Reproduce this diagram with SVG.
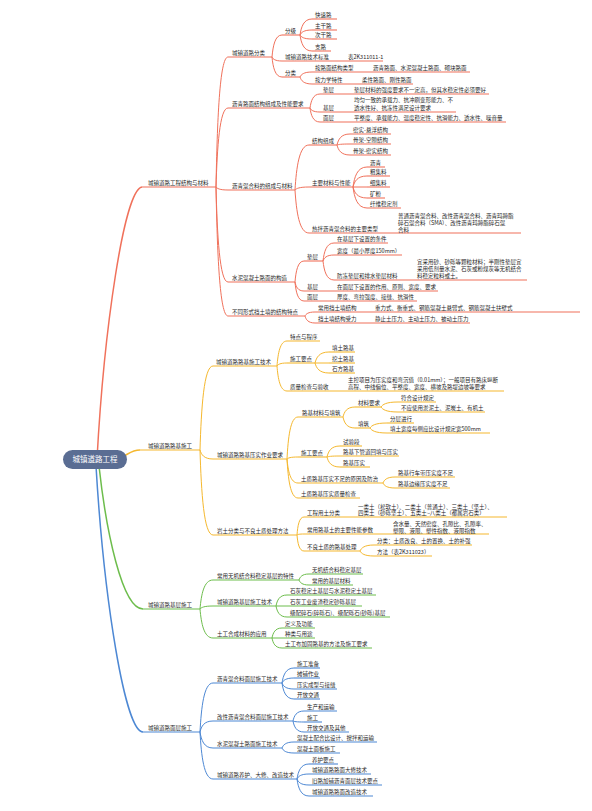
<svg xmlns="http://www.w3.org/2000/svg" width="592" height="811" viewBox="0 0 592 811">
<style>
text{font-family:"Noto Sans CJK SC","Noto Sans",sans-serif;font-size:5.5px;fill:#1e1e1e}
.c{fill:none;stroke-width:1}
.m{fill:none;stroke-width:1.5}
.u{fill:none;stroke-width:1.1}
.R{stroke:#f0715b}.Y{stroke:#f5b82e}.G{stroke:#6dbd4c}.B{stroke:#4d88d4}
.root{fill:#5a6d93}
.rt{font-size:7.5px;fill:#fff}
</style>
<rect width="592" height="811" fill="#fff"/>
<g id="connectors">
<path class="m R" d="M97 459C104 330 124 190 142 187"/>
<path class="m Y" d="M112 459C126 459 128 450 140 450"/>
<path class="m G" d="M99 466C106 530 122 609 143 609"/>
<path class="m B" d="M96 466C104 600 125 732 143 732"/>
<g class="c R">
<path d="M216 187C217.2 122 219.6 57 228 57"/>
<path d="M216 187C217.2 147.5 219.6 108 228 108"/>
<path d="M216 187C217.2 188.5 219.6 190 228 190"/>
<path d="M216 187C217.2 234.5 219.6 282 228 282"/>
<path d="M216 187C217.2 251.5 219.6 316 228 316"/>
<path d="M272 57C273 46 275 35 282 35"/>
<path d="M272 57C273 59 275 61 282 61"/>
<path d="M272 57C273 67 275 77 282 77"/>
<path d="M300 35C301.2 27 303.6 19 312 19"/>
<path d="M300 35C301.2 32.5 303.6 30 312 30"/>
<path d="M300 35C301.2 37 303.6 39 312 39"/>
<path d="M300 35C301.2 43 303.6 51 312 51"/>
<path d="M300 77C301.2 74.5 303.6 72 312 72"/>
<path d="M300 77C301.2 80.5 303.6 84 312 84"/>
<path d="M310 108C311 101 313 94 320 94"/>
<path d="M310 108C311 110 313 112 320 112"/>
<path d="M310 108C311 115 313 122 320 122"/>
<path d="M295 190C296.4 167.5 299.2 145 309 145"/>
<path d="M295 190C296.4 188.5 299.2 187 309 187"/>
<path d="M295 190C296.4 211.5 299.2 233 309 233"/>
<path d="M337 145C338.3 139.5 340.9 134 350 134"/>
<path d="M337 145C338.3 144.5 340.9 144 350 144"/>
<path d="M337 145C338.3 150 340.9 155 350 155"/>
<path d="M353 187C354.4 177 357.2 167 367 167"/>
<path d="M353 187C354.4 181.5 357.2 176 367 176"/>
<path d="M353 187H367"/>
<path d="M353 187C354.4 192.5 357.2 198 367 198"/>
<path d="M353 187C354.4 197.5 357.2 208 367 208"/>
<path d="M295 282C295.9 271.5 297.7 261 304 261"/>
<path d="M295 282C295.9 286.5 297.7 291 304 291"/>
<path d="M295 282C295.9 291.5 297.7 301 304 301"/>
<path d="M323 261C324.1 252 326.3 243 334 243"/>
<path d="M323 261C324.1 258 326.3 255 334 255"/>
<path d="M323 261C324.1 270.5 326.3 280 334 280"/>
<path d="M305 316C306 314 308 312 315 312"/>
<path d="M305 316C306 319.5 308 323 315 323"/>
</g>
<g class="c Y">
<path d="M200 450C201.3 408 203.9 366 213 366"/>
<path d="M200 450C201.3 454.5 203.9 459 213 459"/>
<path d="M200 450C201.3 492.5 203.9 535 213 535"/>
<path d="M277 366C278 353.5 280 341 287 341"/>
<path d="M277 366C278 364.5 280 363 287 363"/>
<path d="M277 366C278 378.5 280 391 287 391"/>
<path d="M315 363C316.4 357.5 319.2 352 329 352"/>
<path d="M315 363H329"/>
<path d="M315 363C316.4 368 319.2 373 329 373"/>
<path d="M287 459C288.1 438 290.3 417 298 417"/>
<path d="M287 459C288.1 458 290.3 457 298 457"/>
<path d="M287 459C288.1 471 290.3 483 298 483"/>
<path d="M287 459C288.1 478.5 290.3 498 298 498"/>
<path d="M343 417C344.2 412 346.6 407 355 407"/>
<path d="M343 417C344.2 422.5 346.6 428 355 428"/>
<path d="M381 407C382.7 404.5 386.1 402 398 402"/>
<path d="M381 407C382.7 409.5 386.1 412 398 412"/>
<path d="M370 428C371.7 425.5 375.1 423 387 423"/>
<path d="M370 428C371.7 430.5 375.1 433 387 433"/>
<path d="M327 457C328.3 451.5 330.9 446 340 446"/>
<path d="M327 457C328.3 456.5 330.9 456 340 456"/>
<path d="M327 457C328.3 462 330.9 467 340 467"/>
<path d="M383 483C384.2 480 386.6 477 395 477"/>
<path d="M383 483C384.2 485.5 386.6 488 395 488"/>
<path d="M297 535C297.7 526 299.1 517 304 517"/>
<path d="M297 535C297.7 534.5 299.1 534 304 534"/>
<path d="M297 535C297.7 543 299.1 551 304 551"/>
<path d="M360 551C361.4 548 364.2 545 374 545"/>
<path d="M360 551C361.4 553.5 364.2 556 374 556"/>
</g>
<g class="c G">
<path d="M200 609C201.3 594.5 203.9 580 213 580"/>
<path d="M200 609C201.3 607.5 203.9 606 213 606"/>
<path d="M200 609C201.3 623.5 203.9 638 213 638"/>
<path d="M299 580C300 577 302 574 309 574"/>
<path d="M299 580C300 582.5 302 585 309 585"/>
<path d="M276 606C277.1 600.5 279.3 595 287 595"/>
<path d="M276 606H287"/>
<path d="M276 606C277.1 611.5 279.3 617 287 617"/>
<path d="M272 638C273 633 275 628 282 628"/>
<path d="M272 638H282"/>
<path d="M272 638C273 643 275 648 282 648"/>
</g>
<g class="c B">
<path d="M200 732C201.3 707.5 203.9 683 213 683"/>
<path d="M200 732C201.3 726.5 203.9 721 213 721"/>
<path d="M200 732C201.3 740 203.9 748 213 748"/>
<path d="M200 732C201.3 755.5 203.9 779 213 779"/>
<path d="M282 683C283.2 675.5 285.6 668 294 668"/>
<path d="M282 683C283.2 680.5 285.6 678 294 678"/>
<path d="M282 683C283.2 686 285.6 689 294 689"/>
<path d="M282 683C283.2 691 285.6 699 294 699"/>
<path d="M293 721C294.1 716 296.3 711 304 711"/>
<path d="M293 721C294.1 721.5 296.3 722 304 722"/>
<path d="M293 721C294.1 726.5 296.3 732 304 732"/>
<path d="M282 748C283.2 745 285.6 742 294 742"/>
<path d="M282 748C283.2 750.5 285.6 753 294 753"/>
<path d="M297 779C298.2 771.5 300.6 764 309 764"/>
<path d="M297 779C298.2 776.5 300.6 774 309 774"/>
<path d="M297 779C298.2 782 300.6 785 309 785"/>
<path d="M297 779C298.2 787.5 300.6 796 309 796"/>
</g>
</g>

<g id="root"><rect class="root" x="63" y="450" width="64" height="19" rx="9.5"/><text class="rt" x="95" y="462.3" text-anchor="middle">城镇道路工程</text></g>

<!-- red branch -->
<g id="n-r"><path class="u R" d="M142 187H216"/><text x="148" y="185">城镇道路工程结构与材料</text></g>
<g id="n-r1"><path class="u R" d="M228 57H272"/><text x="232" y="55">城镇道路分类</text></g>
<g id="n-r1a"><path class="u R" d="M282 35H300"/><text x="285" y="33">分级</text></g>
<g id="n-r1a1"><path class="u R" d="M312 19H337"/><text x="315" y="17">快速路</text></g>
<g id="n-r1a2"><path class="u R" d="M312 30H337"/><text x="315" y="28">主干路</text></g>
<g id="n-r1a3"><path class="u R" d="M312 39H337"/><text x="315" y="37">次干路</text></g>
<g id="n-r1a4"><path class="u R" d="M312 51H331"/><text x="315" y="49">支路</text></g>
<g id="n-r1b"><path class="u R" d="M282 61H383"/><text x="285" y="59">城镇道路技术标准</text><text x="348" y="59">表2K311011-1</text></g>
<g id="n-r1c"><path class="u R" d="M282 77H300"/><text x="285" y="75">分类</text></g>
<g id="n-r1c1"><path class="u R" d="M312 72H470"/><text x="315" y="70">按路面结构类型</text><text x="373" y="70">沥青路面、水泥混凝土路面、砌块路面</text></g>
<g id="n-r1c2"><path class="u R" d="M312 84H413"/><text x="315" y="82">按力学特性</text><text x="362" y="82">柔性路面、刚性路面</text></g>
<g id="n-r2"><path class="u R" d="M228 108H310"/><text x="232" y="106">沥青路面结构组成及性能要求</text></g>
<g id="n-r2a"><path class="u R" d="M320 94H489"/><text x="323" y="92">垫层</text><text x="354" y="92">垫层材料的强度要求不一定高，但其水稳定性必须要好</text></g>
<g id="n-r2b"><path class="u R" d="M320 112H456"/><text x="323" y="110">基层</text><text x="354" y="102.2">均匀一致的承载力、抗冲刷变形能力、不<tspan x="354" y="110">透水性好、抗冻性满足设计要求</tspan></text></g>
<g id="n-r2c"><path class="u R" d="M320 122H506"/><text x="323" y="120">面层</text><text x="354" y="120">平整度、承载能力、温度稳定性、抗滑能力、透水性、噪音量</text></g>
<g id="n-r3"><path class="u R" d="M228 190H295"/><text x="232" y="188">沥青混合料的组成与材料</text></g>
<g id="n-r3a"><path class="u R" d="M309 145H337"/><text x="312" y="143">结构组成</text></g>
<g id="n-r3a1"><path class="u R" d="M350 134H391"/><text x="353" y="132">密实-悬浮结构</text></g>
<g id="n-r3a2"><path class="u R" d="M350 144H391"/><text x="353" y="142">骨架-空隙结构</text></g>
<g id="n-r3a3"><path class="u R" d="M350 155H391"/><text x="353" y="153">骨架-密实结构</text></g>
<g id="n-r3b"><path class="u R" d="M309 187H353"/><text x="312" y="185">主要材料与性能</text></g>
<g id="n-r3b1"><path class="u R" d="M367 167H385"/><text x="370" y="165">沥青</text></g>
<g id="n-r3b2"><path class="u R" d="M367 176H390"/><text x="370" y="174">粗集料</text></g>
<g id="n-r3b3"><path class="u R" d="M367 187H390"/><text x="370" y="185">细集料</text></g>
<g id="n-r3b4"><path class="u R" d="M367 198H385"/><text x="370" y="196">矿粉</text></g>
<g id="n-r3b5"><path class="u R" d="M367 208H401"/><text x="370" y="206">纤维稳定剂</text></g>
<g id="n-r3c"><path class="u R" d="M309 233H521"/><text x="312" y="231">热拌沥青混合料的主要类型</text><text x="398" y="218">普通沥青混合料、改性沥青混合料、沥青玛蹄脂<tspan x="398" y="225">碎石混合料（SMA）、改性沥青玛蹄脂碎石混</tspan><tspan x="398" y="232">合料</tspan></text></g>
<g id="n-r4"><path class="u R" d="M228 282H295"/><text x="232" y="280">水泥混凝土路面的构造</text></g>
<g id="n-r4a"><path class="u R" d="M304 261H323"/><text x="307" y="259">垫层</text></g>
<g id="n-r4a1"><path class="u R" d="M334 243H388"/><text x="337" y="241">在基层下设置的条件</text></g>
<g id="n-r4a2"><path class="u R" d="M334 255H402"/><text x="337" y="253">宽度（最小厚度150mm）</text></g>
<g id="n-r4a3"><path class="u R" d="M334 280H527"/><text x="337" y="278">防冻垫层和排水垫层材料</text><text x="417" y="264">宜采用砂、砂砾等颗粒材料；半刚性垫层宜<tspan x="417" y="271">采用低剂量水泥、石灰或粉煤灰等无机结合</tspan><tspan x="417" y="278">料稳定粒料或土。</tspan></text></g>
<g id="n-r4b"><path class="u R" d="M304 291H438"/><text x="307" y="289">基层</text><text x="337" y="289">在面层下设置的作用、原则、宽度、要求</text></g>
<g id="n-r4c"><path class="u R" d="M304 301H417"/><text x="307" y="299">面层</text><text x="337" y="299">厚度、弯拉强度、接缝、抗滑性</text></g>
<g id="n-r5"><path class="u R" d="M228 316H305"/><text x="232" y="314">不同形式挡土墙的结构特点</text></g>
<g id="n-r5a"><path class="u R" d="M315 312H580"/><text x="318" y="310">常用挡土墙结构</text><text x="375" y="310">重力式、衡重式、钢筋混凝土悬臂式、钢筋混凝土扶壁式</text></g>
<g id="n-r5b"><path class="u R" d="M315 323H470"/><text x="318" y="321">挡土墙结构受力</text><text x="375" y="321">静止土压力、主动土压力、被动土压力</text></g>

<!-- yellow branch -->
<g id="n-y"><path class="u Y" d="M140 450H200"/><text x="148" y="448">城镇道路路基施工</text></g>
<g id="n-y1"><path class="u Y" d="M213 366H277"/><text x="216" y="364">城镇道路路基施工技术</text></g>
<g id="n-y1a"><path class="u Y" d="M287 341H320"/><text x="290" y="339">特点与程序</text></g>
<g id="n-y1b"><path class="u Y" d="M287 363H315"/><text x="290" y="361">施工要点</text></g>
<g id="n-y1b1"><path class="u Y" d="M329 352H355"/><text x="332" y="350">填土路基</text></g>
<g id="n-y1b2"><path class="u Y" d="M329 363H355"/><text x="332" y="361">挖土路基</text></g>
<g id="n-y1b3"><path class="u Y" d="M329 373H355"/><text x="332" y="371">石方路基</text></g>
<g id="n-y1c"><path class="u Y" d="M287 391H504"/><text x="290" y="389">质量检查与验收</text><text x="348" y="382">主控项目为压实度和弯沉值（0.01mm）；一般项目有路床纵断<tspan x="348" y="389">高程、中线偏位、平整度、宽度、横坡及路堤边坡等要求</tspan></text></g>
<g id="n-y2"><path class="u Y" d="M213 459H287"/><text x="217" y="457">城镇道路路基压实作业要求</text></g>
<g id="n-y2a"><path class="u Y" d="M298 417H343"/><text x="302" y="415">路基材料与填筑</text></g>
<g id="n-y2a1"><path class="u Y" d="M355 407H381"/><text x="358" y="405">材料要求</text></g>
<g id="n-y2a1a"><path class="u Y" d="M398 402H436"/><text x="401" y="400">符合设计规定</text></g>
<g id="n-y2a1b"><path class="u Y" d="M398 412H485"/><text x="401" y="410">不应使用淤泥土、泥炭土、有机土</text></g>
<g id="n-y2a2"><path class="u Y" d="M355 428H370"/><text x="358" y="426">填筑</text></g>
<g id="n-y2a2a"><path class="u Y" d="M387 423H414"/><text x="390" y="421">分层进行</text></g>
<g id="n-y2a2b"><path class="u Y" d="M387 433H490"/><text x="390" y="431">填土宽度每侧应比设计规定宽500mm</text></g>
<g id="n-y2b"><path class="u Y" d="M298 457H327"/><text x="301" y="455">施工要点</text></g>
<g id="n-y2b1"><path class="u Y" d="M340 446H362"/><text x="343" y="444">试验段</text></g>
<g id="n-y2b2"><path class="u Y" d="M340 456H399"/><text x="343" y="454">路基下管道回填与压实</text></g>
<g id="n-y2b3"><path class="u Y" d="M340 467H370"/><text x="343" y="465">路基压实</text></g>
<g id="n-y2c"><path class="u Y" d="M298 483H383"/><text x="301" y="481">土质路基压实不足的原因及防治</text></g>
<g id="n-y2c1"><path class="u Y" d="M395 477H455"/><text x="398" y="475">路基行车带压实度不足</text></g>
<g id="n-y2c2"><path class="u Y" d="M395 488H450"/><text x="398" y="486">路基边缘压实度不足</text></g>
<g id="n-y2d"><path class="u Y" d="M298 498H360"/><text x="301" y="496">土质路基压实质量检查</text></g>
<g id="n-y3"><path class="u Y" d="M213 535H297"/><text x="217" y="533">岩土分类与不良土质处理方法</text></g>
<g id="n-y3a"><path class="u Y" d="M304 517H507"/><text x="307" y="515">工程用土分类</text><text x="358" y="508.5">一类土（松软土）、二类土（普通土）、三类土（坚土）、<tspan x="358" y="515">四类土（砂砾坚土）、五类土~八类土（都属岩石类）</tspan></text></g>
<g id="n-y3b"><path class="u Y" d="M304 534H489"/><text x="307" y="532">常用路基土的主要性能参数</text><text x="393" y="526">含水量、天然密度、孔隙比、孔隙率、<tspan x="393" y="532.8">塑限、液限、塑性指数、液限指数</tspan></text></g>
<g id="n-y3c"><path class="u Y" d="M304 551H360"/><text x="307" y="549">不良土质的路基处理</text></g>
<g id="n-y3c1"><path class="u Y" d="M374 545H472"/><text x="377" y="543">分类：土质改良、土的置换、土的补强</text></g>
<g id="n-y3c2"><path class="u Y" d="M374 556H432"/><text x="377" y="554">方法（表2K311023）</text></g>

<!-- green branch -->
<g id="n-g"><path class="u G" d="M143 609H200"/><text x="148" y="607">城镇道路基层施工</text></g>
<g id="n-g1"><path class="u G" d="M213 580H299"/><text x="217" y="578">常用无机结合料稳定基层的特性</text></g>
<g id="n-g1a"><path class="u G" d="M309 574H363"/><text x="312" y="572">无机结合料稳定基层</text></g>
<g id="n-g1b"><path class="u G" d="M309 585H353"/><text x="312" y="583">常用的基层材料</text></g>
<g id="n-g2"><path class="u G" d="M213 606H276"/><text x="217" y="604">城镇道路基层施工技术</text></g>
<g id="n-g2a"><path class="u G" d="M287 595H376"/><text x="290" y="593">石灰稳定土基层与水泥稳定土基层</text></g>
<g id="n-g2b"><path class="u G" d="M287 606H362"/><text x="290" y="604">石灰工业废渣稳定砂砾基层</text></g>
<g id="n-g2c"><path class="u G" d="M287 617H390"/><text x="290" y="615">级配碎石(碎砾石)、级配砾石(砂砾)基层</text></g>
<g id="n-g3"><path class="u G" d="M213 638H272"/><text x="217" y="636">土工合成材料的应用</text></g>
<g id="n-g3a"><path class="u G" d="M282 628H315"/><text x="285" y="626">定义及功能</text></g>
<g id="n-g3b"><path class="u G" d="M282 638H315"/><text x="285" y="636">种类与用途</text></g>
<g id="n-g3c"><path class="u G" d="M282 648H372"/><text x="285" y="646">土工布加固路基的方法及施工要求</text></g>

<!-- blue branch -->
<g id="n-b"><path class="u B" d="M143 732H200"/><text x="148" y="730">城镇道路面层施工</text></g>
<g id="n-b1"><path class="u B" d="M213 683H282"/><text x="217" y="681">沥青混合料面层施工技术</text></g>
<g id="n-b1a"><path class="u B" d="M294 668H320"/><text x="297" y="666">施工准备</text></g>
<g id="n-b1b"><path class="u B" d="M294 678H320"/><text x="297" y="676">摊铺作业</text></g>
<g id="n-b1c"><path class="u B" d="M294 689H337"/><text x="297" y="687">压实成型与接缝</text></g>
<g id="n-b1d"><path class="u B" d="M294 699H320"/><text x="297" y="697">开放交通</text></g>
<g id="n-b2"><path class="u B" d="M213 721H293"/><text x="217" y="719">改性沥青混合料面层施工技术</text></g>
<g id="n-b2a"><path class="u B" d="M304 711H337"/><text x="307" y="709">生产和运输</text></g>
<g id="n-b2b"><path class="u B" d="M304 722H322"/><text x="307" y="720">施工</text></g>
<g id="n-b2c"><path class="u B" d="M304 732H349"/><text x="307" y="730">开放交通及其他</text></g>
<g id="n-b3"><path class="u B" d="M213 748H282"/><text x="217" y="746">水泥混凝土路面施工技术</text></g>
<g id="n-b3a"><path class="u B" d="M294 742H377"/><text x="297" y="740">混凝土配合比设计、搅拌和运输</text></g>
<g id="n-b3b"><path class="u B" d="M294 753H340"/><text x="297" y="751">混凝土面板施工</text></g>
<g id="n-b4"><path class="u B" d="M213 779H297"/><text x="217" y="777">城镇道路养护、大修、改造技术</text></g>
<g id="n-b4a"><path class="u B" d="M309 764H338"/><text x="312" y="762">养护要点</text></g>
<g id="n-b4b"><path class="u B" d="M309 774H371"/><text x="312" y="772">城镇道路路面大修技术</text></g>
<g id="n-b4c"><path class="u B" d="M309 785H382"/><text x="312" y="783">旧路加铺沥青面层技术要点</text></g>
<g id="n-b4d"><path class="u B" d="M309 796H373"/><text x="312" y="794">城镇道路路面改造技术</text></g>
</svg>
